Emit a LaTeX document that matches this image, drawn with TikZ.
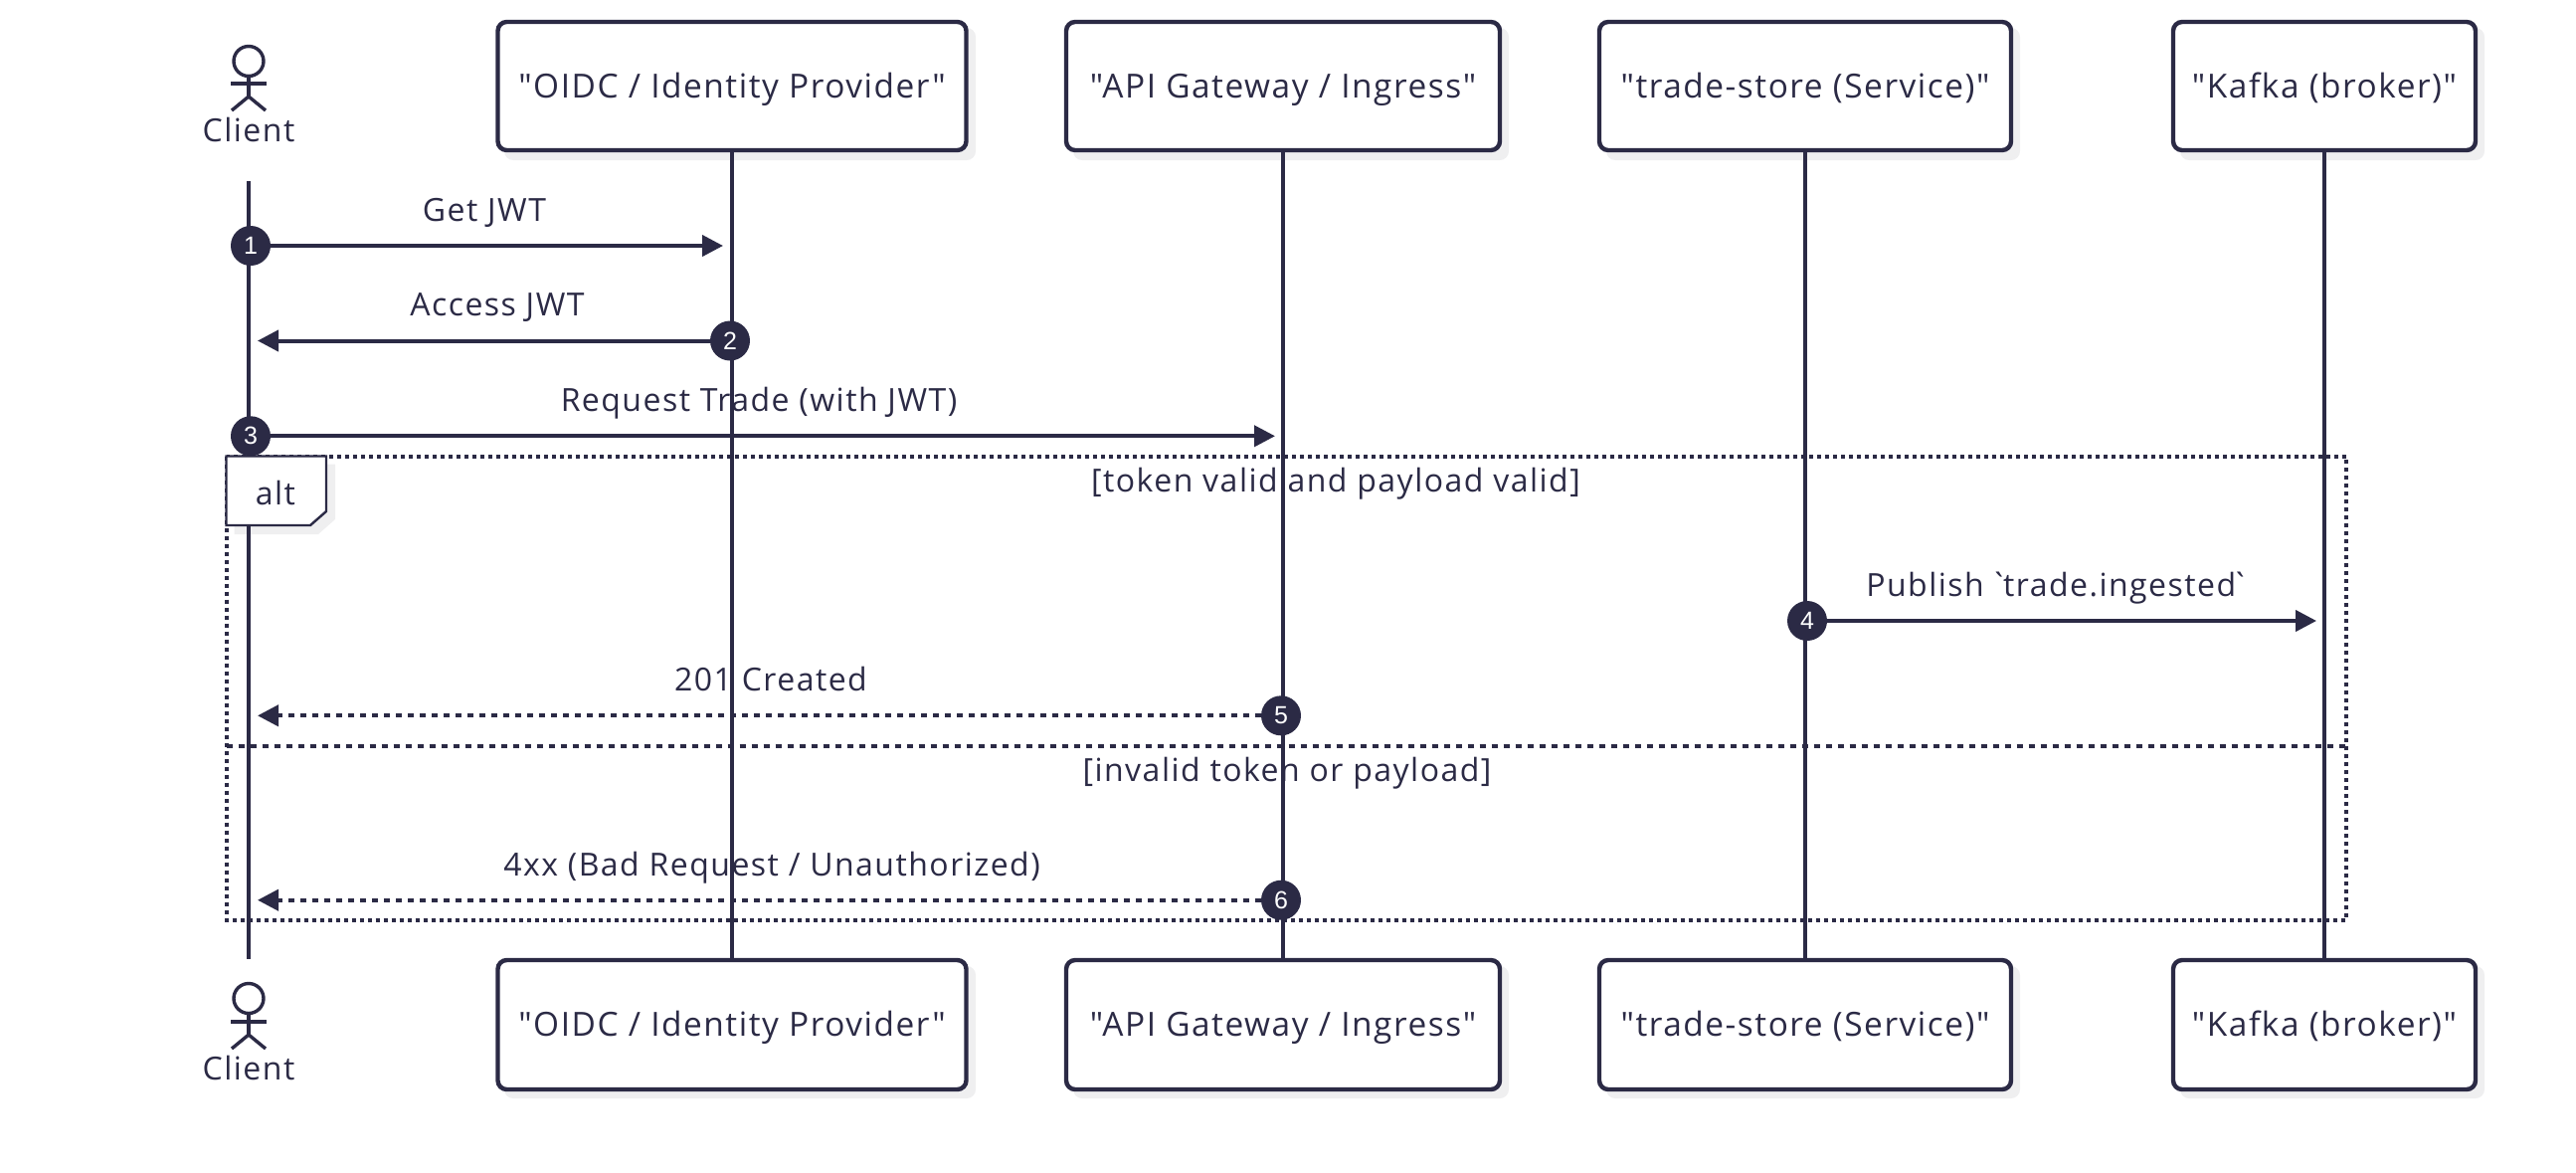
\documentclass[tikz,border=0pt]{standalone}
\usepackage{fontspec}
\setmainfont{Open Sans}[Ligatures=TeXOff,LetterSpace=4.6]
\newfontfamily\numfont{Liberation Sans}
\usetikzlibrary{arrows.meta}
\definecolor{ink}{HTML}{2B2A45}
\definecolor{shadowgrey}{HTML}{EFEFF0}
\tikzset{
  x=1pt,y=-1pt,
  actorbox/.style={draw=ink,line width=4.4pt,rounded corners=9pt,fill=white,anchor=north west,inner sep=0pt,outer sep=0pt,text=ink,text height=30.5pt,text depth=7pt,font=\fontsize{33.4}{36}\selectfont},
  dropshadow/.style={fill=shadowgrey,rounded corners=9pt},
  life/.style={draw=ink,line width=4pt},
  msg/.style={draw=ink,line width=4pt,-{Triangle[length=21pt,width=21pt]}},
  msgd/.style={draw=ink,line width=4pt,dash pattern=on 6.5pt off 5.5pt,-{Triangle[length=21pt,width=21pt]}},
  lbl/.style={text=ink,font=\fontsize{32}{36}\selectfont,inner sep=0pt,anchor=base},
  badge/.style={circle,fill=ink,text=white,minimum size=40pt,inner sep=0pt,outer sep=0pt,font=\numfont\fontsize{25}{25}\selectfont},
  frameline/.style={draw=ink,line width=4pt,dash pattern=on 4pt off 4pt},
  divline/.style={draw=ink,line width=4pt,dash pattern=on 6pt off 6pt},
  stick/.style={draw=ink,line width=3.4pt},
}
\begin{document}
\begin{tikzpicture}
\useasboundingbox (0,0) rectangle (2590,1178);
% shadows
\foreach \l/\r in {499/973,1071/1509,1607/2023,2184/2490}{
  \path[dropshadow] (\l+8,28) rectangle (\r+8,161);
  \path[dropshadow] (\l+8,971) rectangle (\r+8,1104);
}
\fill[shadowgrey] (235.5,466.5) -- (337,466.5) -- (337,522) -- (320,537) -- (235.5,537) -- cycle;
% labels under the lifelines
\node[lbl] (l1) at (487,222.5) {Get JWT};
\node[lbl] (l2) at (500,317.5) {Access JWT};
\node[lbl] (l3) at (763,413.5) {Request Trade (with JWT)};
\node[lbl] (g1) at (1343,494.5) {[token valid and payload valid]};
\node[lbl] (l4) at (2069,599.5) {Publish\kern-4pt\ `\kern-5pt trade.ingested\kern-5pt `};
\node[lbl] (l5) at (775,694.5) {201 Created};
\node[lbl] (g2) at (1294,785.5) {[invalid token or payload]};
\node[lbl] (l6) at (776,880.5) {4xx (Bad Request / Unauthorized)};
% actor anchors
\coordinate (c1) at (250,182);
\coordinate (c2) at (250,964);
% boxes top
\node[actorbox,minimum width=471pt,minimum height=129pt] (o1) at (500.5,22) {"OIDC / Identity Provider"};
\node[actorbox,minimum width=436pt,minimum height=129pt] (a1) at (1072,22) {"API Gateway / Ingress"};
\node[actorbox,minimum width=414pt,minimum height=129pt] (t1) at (1608,22) {"trade-store (Service)"};
\node[actorbox,minimum width=304pt,minimum height=129pt] (k1) at (2185,22) {"Kafka (broker)"};
% boxes bottom
\node[actorbox,minimum width=471pt,minimum height=130pt] (o2) at (500.5,965) {"OIDC / Identity Provider"};
\node[actorbox,minimum width=436pt,minimum height=130pt] (a2) at (1072,965) {"API Gateway / Ingress"};
\node[actorbox,minimum width=414pt,minimum height=130pt] (t2) at (1608,965) {"trade-store (Service)"};
\node[actorbox,minimum width=304pt,minimum height=130pt] (k2) at (2185,965) {"Kafka (broker)"};
% lifelines
\draw[life] (c1) -- (c2);
\draw[life] (o1.south) -- (o2.north);
\draw[life] (a1.south) -- (a2.north);
\draw[life] (t1.south) -- (t2.north);
\draw[life] (k1.south) -- (k2.north);
% alt frame
\draw[frameline] (227.5,458.5) rectangle (2359,924.5);
\draw[divline] (227.5,749.5) -- (2359,749.5);
\draw[draw=ink,line width=2.4pt,fill=white] (227.5,458.5) -- (328,458.5) -- (328,514) -- (312,528) -- (227.5,528) -- cycle;
\node[lbl] (alt) at (277,507.5) {alt};
% badges and messages
\node[badge] (b1) at (252,247) {1};
\node[badge] (b2) at (734,342.5) {2};
\node[badge] (b3) at (252,438.3) {3};
\node[badge] (b4) at (1817,624) {4};
\node[badge] (b5) at (1288,719.3) {5};
\node[badge] (b6) at (1288,904.7) {6};
\coordinate (e1) at (727,247);
\coordinate (e2) at (259,342.5);
\coordinate (e3) at (1282,438.3);
\coordinate (e4) at (2329,624);
\coordinate (e5) at (259,719.3);
\coordinate (e6) at (259,904.7);
\draw[msg] (b1) -- (e1);
\draw[msg] (b2) -- (e2);
\draw[msg] (b3) -- (e3);
\draw[msg] (b4) -- (e4);
\draw[msgd] (b5) -- (e5);
\draw[msgd] (b6) -- (e6);
% stick figures
\draw[stick] (250,61.5) circle (15);
\draw[stick] (250,1003.5) circle (15);
\foreach \dy in {0,943}{
  \draw[stick] (250,77+\dy) -- (250,97+\dy);
  \draw[stick] (232,84+\dy) -- (268,84+\dy);
  \draw[stick] (233,111+\dy) -- (250,97+\dy) -- (267,111+\dy);
}
\node[lbl] (n1) at (250,142) {Client};
\node[lbl] (n2) at (250,1085) {Client};
\end{tikzpicture}
\end{document}
